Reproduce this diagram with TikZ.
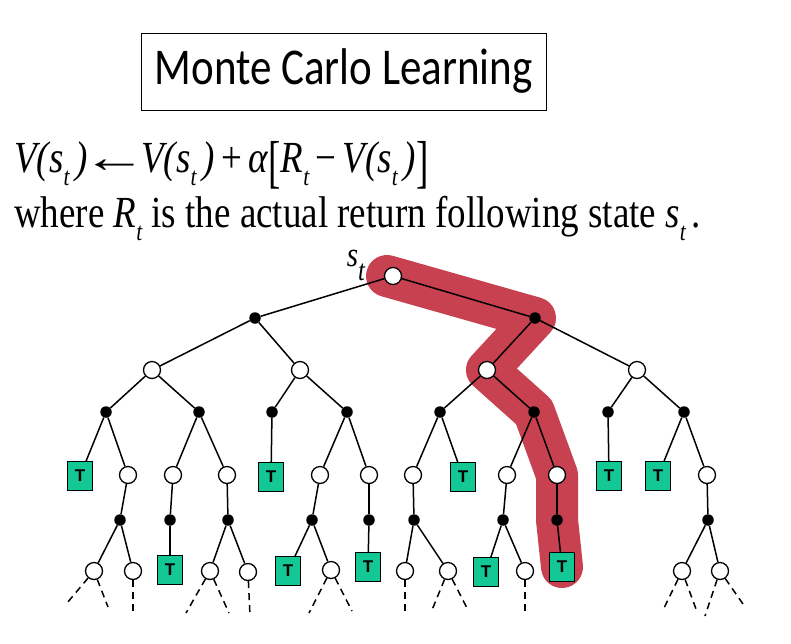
\documentclass[tikz,border=0pt]{standalone}
\usepackage{fontspec}
\setmainfont{Liberation Serif}
\newfontfamily\titlefont{Carlito}
\newfontfamily\boxfont{Liberation Sans}
\usepackage{graphicx}
\usepackage{xcolor}
\usetikzlibrary{backgrounds}
\definecolor{termgreen}{RGB}{20,200,150}
\definecolor{pathred}{RGB}{200,65,80}
\newcommand{\sbt}{\raisebox{-0.3em}{\scalebox{0.58}{\itshape t}}}
\newcommand{\bigbr}[1]{\raisebox{-0.22em}{\scalebox{1}[1.3]{#1}}}
\newcommand{\tall}[1]{\scalebox{1}[1.2]{#1}}
\newcommand{\getsarrow}{\kern-0.32em\scalebox{1.75}[1]{←}\kern-0.32em}

\begin{document}
\begin{tikzpicture}[x=1pt, y=-1pt,
  state/.style={circle, draw, fill=white, minimum size=17pt, inner sep=0pt, line width=1.3pt},
  action/.style={circle, fill=black, minimum size=11.5pt, inner sep=0pt},
  term/.style={rectangle, draw, fill=termgreen, minimum width=25pt, minimum height=29pt,
    inner sep=0pt, line width=0.9pt, font=\boxfont\bfseries\fontsize{17}{17}\selectfont},
  edge/.style={line width=1.5pt},
  more/.style={line width=1.5pt, dash pattern=on 7pt off 5pt}]
  \useasboundingbox (0,0) rectangle (791,643);

  % heading and update rule
  \node[draw, line width=1pt, minimum width=405pt, minimum height=77pt,
    font=\titlefont\fontsize{43}{43}\selectfont] (title) at (343.5,71.5) {\tall{Monte Carlo Learning}};
  \node[anchor=base west, inner sep=0pt, font=\fontsize{37}{37}\selectfont] (rule) at (14,172)
    {\tall{\textit{V(s}\sbt\,\textit{)}\,\getsarrow\,\textit{V(s}\sbt\,\textit{)}\,+\,\textit{α}\bigbr{[}\textit{R}\sbt\,−\,\textit{V(s}\sbt\,\textit{)}\bigbr{]}}};
  \node[anchor=base west, inner sep=0pt, font=\fontsize{37}{37}\selectfont] (note) at (14,227)
    {\tall{where \textit{R}\sbt\ is the actual return following state \textit{s}\sbt\,.}};

  % backup tree
  \node[state] (st) at (393,276) {};
  \node[inner sep=0pt, font=\fontsize{29}{29}\selectfont] (stlab) at (356,265)
    {\tall{\textit{s}\raisebox{-0.4em}{\scalebox{0.85}{\itshape t}}}};
  \node[action] (a1) at (255,318) {};
  \node[action] (a2) at (535,318) {};
  \node[state] (b1) at (152,370) {};
  \node[state] (b2) at (300,370) {};
  \node[state] (b3) at (487,370) {};
  \node[state] (b4) at (637,370) {};
  \node[action] (c1) at (106,412) {};
  \node[action] (c2) at (199,412) {};
  \node[action] (c3) at (272,412) {};
  \node[action] (c4) at (347,412) {};
  \node[action] (c5) at (440,412) {};
  \node[action] (c6) at (534,412) {};
  \node[action] (c7) at (608,412) {};
  \node[action] (c8) at (684,412) {};
  \node[term] (d1) at (80,476) {T};
  \node[state] (d2) at (128,475) {};
  \node[state] (d3) at (173,475) {};
  \node[state] (d4) at (227,475) {};
  \node[term] (d5) at (271,477) {T};
  \node[state] (d6) at (320,475) {};
  \node[state] (d7) at (369,475) {};
  \node[state] (d8) at (413,475) {};
  \node[term] (d9) at (463,477) {T};
  \node[state] (d10) at (507,475) {};
  \node[state] (d11) at (557,475) {};
  \node[term] (d12) at (609,476) {T};
  \node[term] (d13) at (658,476) {T};
  \node[state] (d14) at (707,475) {};
  \node[action] (e1) at (120,520) {};
  \node[action] (e2) at (170,520) {};
  \node[action] (e3) at (228,520) {};
  \node[action] (e4) at (312,520) {};
  \node[action] (e5) at (369,520) {};
  \node[action] (e6) at (414,520) {};
  \node[action] (e7) at (503,520) {};
  \node[action] (e8) at (557,520) {};
  \node[action] (e9) at (708,520) {};
  \node[state] (f1) at (94,571) {};
  \node[state] (f2) at (133,571) {};
  \node[term] (f3) at (170,570) {T};
  \node[state] (f4) at (210,571) {};
  \node[state] (f5) at (248,572) {};
  \node[term] (f6) at (288,571) {T};
  \node[state] (f7) at (331,570) {};
  \node[term] (f8) at (368,567) {T};
  \node[state] (f9) at (405,571) {};
  \node[state] (f10) at (448,571) {};
  \node[term] (f11) at (486,572) {T};
  \node[state] (f12) at (525,571) {};
  \node[term] (f13) at (562,567) {T};
  \node[state] (f14) at (682,571) {};
  \node[state] (f15) at (720,571) {};

  % loose ends of the dashed branches
  \coordinate (g1) at (67,603);
  \coordinate (g2) at (108,607);
  \coordinate (g3) at (133,612);
  \coordinate (g4) at (186,613);
  \coordinate (g5) at (229,613);
  \coordinate (g6) at (250,616);
  \coordinate (g7) at (309,613);
  \coordinate (g8) at (352,611);
  \coordinate (g9) at (405,616);
  \coordinate (g10) at (432,610);
  \coordinate (g11) at (468,610);
  \coordinate (g12) at (525,612);
  \coordinate (g13) at (664,608);
  \coordinate (g14) at (696,609);
  \coordinate (g15) at (705,616);
  \coordinate (g16) at (743,604);

  \draw[edge] (st) -- (a1);
  \draw[edge] (st) -- (a2);
  \draw[edge] (a1) -- (b1);
  \draw[edge] (a1) -- (b2);
  \draw[edge] (a2) -- (b3);
  \draw[edge] (a2) -- (b4);
  \draw[edge] (b1) -- (c1);
  \draw[edge] (b1) -- (c2);
  \draw[edge] (b2) -- (c3);
  \draw[edge] (b2) -- (c4);
  \draw[edge] (b3) -- (c5);
  \draw[edge] (b3) -- (c6);
  \draw[edge] (b4) -- (c7);
  \draw[edge] (b4) -- (c8);
  \draw[edge] (c1) -- (d1);
  \draw[edge] (c1) -- (d2);
  \draw[edge] (c2) -- (d3);
  \draw[edge] (c2) -- (d4);
  \draw[edge] (c3) -- (d5);
  \draw[edge] (c4) -- (d6);
  \draw[edge] (c4) -- (d7);
  \draw[edge] (c5) -- (d8);
  \draw[edge] (c5) -- (d9);
  \draw[edge] (c6) -- (d10);
  \draw[edge] (c6) -- (d11);
  \draw[edge] (c7) -- (d12);
  \draw[edge] (c8) -- (d13);
  \draw[edge] (c8) -- (d14);
  \draw[edge] (d2) -- (e1);
  \draw[edge] (d3) -- (e2);
  \draw[edge] (d4) -- (e3);
  \draw[edge] (d6) -- (e4);
  \draw[edge] (d7) -- (e5);
  \draw[edge] (d8) -- (e6);
  \draw[edge] (d10) -- (e7);
  \draw[edge] (d11) -- (e8);
  \draw[edge] (d14) -- (e9);
  \draw[edge] (e1) -- (f1);
  \draw[edge] (e1) -- (f2);
  \draw[edge] (e2) -- (f3);
  \draw[edge] (e3) -- (f4);
  \draw[edge] (e3) -- (f5);
  \draw[edge] (e4) -- (f6);
  \draw[edge] (e4) -- (f7);
  \draw[edge] (e5) -- (f8);
  \draw[edge] (e6) -- (f9);
  \draw[edge] (e6) -- (f10);
  \draw[edge] (e7) -- (f11);
  \draw[edge] (e7) -- (f12);
  \draw[edge] (e8) -- (f13);
  \draw[edge] (e9) -- (f14);
  \draw[edge] (e9) -- (f15);
  \draw[more] (f1) -- (g1);
  \draw[more] (f1) -- (g2);
  \draw[more] (f2) -- (g3);
  \draw[more] (f4) -- (g4);
  \draw[more] (f4) -- (g5);
  \draw[more] (f5) -- (g6);
  \draw[more] (f7) -- (g7);
  \draw[more] (f7) -- (g8);
  \draw[more] (f9) -- (g9);
  \draw[more] (f10) -- (g10);
  \draw[more] (f10) -- (g11);
  \draw[more] (f12) -- (g12);
  \draw[more] (f14) -- (g13);
  \draw[more] (f14) -- (g14);
  \draw[more] (f15) -- (g15);
  \draw[more] (f15) -- (g16);

  % the sampled episode
  \begin{scope}[on background layer]
    \draw[pathred, line width=42pt, line cap=round, line join=round]
      ([xshift=-6pt]st.center) -- (a2.center) -- (b3.center) -- (c6.center)
      -- (d11.center) -- (e8.center) -- (f13.center);
  \end{scope}
\end{tikzpicture}
\end{document}
